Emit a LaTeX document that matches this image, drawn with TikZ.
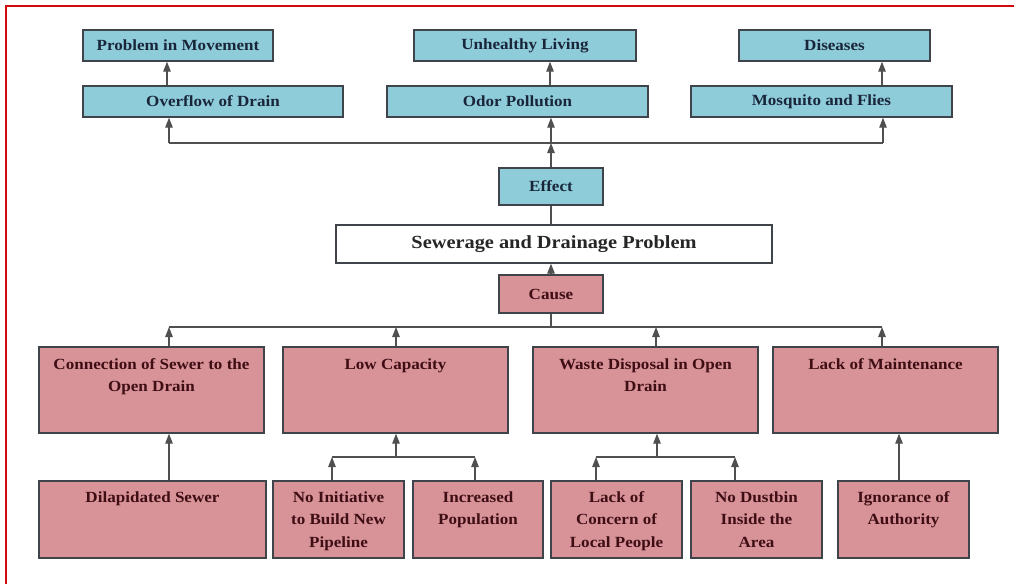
\documentclass[tikz,border=0pt]{standalone}
\usepackage{fontspec}
\usetikzlibrary{arrows.meta}
\newfontfamily\tbf[FakeStretch=1.1]{Liberation Serif}
\definecolor{blueF}{RGB}{143,204,218}
\definecolor{redF}{RGB}{216,147,152}
\definecolor{bord}{RGB}{62,68,74}
\definecolor{lnC}{RGB}{80,80,80}
\definecolor{txtB}{RGB}{25,38,58}
\definecolor{txtR}{RGB}{62,14,20}
\definecolor{frameR}{RGB}{210,10,10}
\tikzset{
  box/.style={draw=bord, line width=1.4pt, inner sep=0pt, anchor=center},
  bbox/.style={box, fill=blueF, text=txtB, font=\tbf\bfseries\fontsize{15.5}{22.5}\selectfont},
  rbox/.style={box, fill=redF},
  wbox/.style={box, fill=white, text=black!85, font=\tbf\bfseries\fontsize{18.5}{22}\selectfont},
  rtxt/.style={anchor=north, align=center, inner sep=0pt, text=txtR, font=\tbf\bfseries\fontsize{15.5}{22.5}\selectfont},
  ln/.style={draw=lnC, line width=1.2pt},
  arr/.style={ln, -{Triangle[length=10pt,width=7.5pt]}}
}
\begin{document}
\begin{tikzpicture}[x=1pt,y=-1pt]
\useasboundingbox (0,0) rectangle (1014,584);
\fill[white] (0,0) rectangle (1014,584);
\draw[frameR, line width=2pt] (1014,6) -- (6,6) -- (6,584);

% effect row nodes
\node[bbox, minimum width=190, minimum height=31] (pm) at (178,45.5) {Problem in Movement};
\node[bbox, minimum width=222, minimum height=31] (ul) at (525,45.5) {Unhealthy Living};
\node[bbox, minimum width=191, minimum height=31] (di) at (834.5,45.5) {Diseases};
\node[bbox, minimum width=260, minimum height=31] (ov) at (213,101.5) {Overflow of Drain};
\node[bbox, minimum width=261, minimum height=31] (op) at (517.5,101.5) {Odor Pollution};
\node[bbox, minimum width=261, minimum height=31] (mf) at (821.5,101.5) {Mosquito and Flies};

\node[bbox, minimum width=104, minimum height=37] (ef) at (551,186.5) {Effect};
\node[wbox, minimum width=436, minimum height=38] (sw) at (554,244) {Sewerage and Drainage Problem};
\node[rbox, minimum width=104, minimum height=38, text=txtR, font=\tbf\bfseries\fontsize{15.5}{22.5}\selectfont] (ca) at (551,294) {Cause};

% cause row 2
\node[rbox, minimum width=225, minimum height=86] (c1) at (151.5,390) {};
\node[rbox, minimum width=225, minimum height=86] (c2) at (395.5,390) {};
\node[rbox, minimum width=225, minimum height=86] (c3) at (645.5,390) {};
\node[rbox, minimum width=225, minimum height=86] (c4) at (885.5,390) {};
\node[rtxt] (c1t) at ([yshift=-12]c1.north) {Connection of Sewer to the\\Open Drain};
\node[rtxt] (c2t) at ([yshift=-12]c2.north) {Low Capacity};
\node[rtxt] (c3t) at ([yshift=-12]c3.north) {Waste Disposal in Open\\Drain};
\node[rtxt] (c4t) at ([yshift=-12]c4.north) {Lack of Maintenance};

% cause row 3
\node[rbox, minimum width=227, minimum height=77] (d1) at (152.5,519.5) {};
\node[rbox, minimum width=131, minimum height=77] (d2) at (338.5,519.5) {};
\node[rbox, minimum width=130, minimum height=77] (d3) at (478,519.5) {};
\node[rbox, minimum width=131, minimum height=77] (d4) at (616.5,519.5) {};
\node[rbox, minimum width=131, minimum height=77] (d5) at (756.5,519.5) {};
\node[rbox, minimum width=131, minimum height=77] (d6) at (903.5,519.5) {};
\node[rtxt] (d1t) at ([yshift=-11]d1.north) {Dilapidated Sewer};
\node[rtxt] (d2t) at ([yshift=-11]d2.north) {No Initiative\\to Build New\\Pipeline};
\node[rtxt] (d3t) at ([yshift=-11]d3.north) {Increased\\Population};
\node[rtxt] (d4t) at ([yshift=-11]d4.north) {Lack of\\Concern of\\Local People};
\node[rtxt] (d5t) at ([yshift=-11]d5.north) {No Dustbin\\Inside the\\Area};
\node[rtxt] (d6t) at ([yshift=-11]d6.north) {Ignorance of\\Authority};

% effect connectors
\coordinate (eL) at (169,143);
\coordinate (eJ) at (551,143);
\coordinate (eR) at (883,143);
\draw[ln] (eL) -- (eR);
\draw[arr] (ef.north) -- (eJ);
\draw[arr] (eL) -- (eL |- ov.south);
\draw[arr] (eJ) -- (eJ |- op.south);
\draw[arr] (eR) -- (eR |- mf.south);
\draw[arr] (167,0 |- ov.north) -- (167,0 |- pm.south);
\draw[arr] (550,0 |- op.north) -- (550,0 |- ul.south);
\draw[arr] (882,0 |- mf.north) -- (882,0 |- di.south);
\draw[ln] (ef.south) -- (ef.south |- sw.north);
\draw[arr] (ca.north) -- (ca.north |- sw.south);

% cause connectors
\coordinate (cL) at (169,327);
\coordinate (cJ) at (551,327);
\coordinate (cR) at (882,327);
\draw[ln] (cL) -- (cR);
\draw[ln] (ca.south) -- (cJ);
\draw[arr] (cL |- c1.north) -- (cL);
\draw[arr] (396,0 |- c2.north) -- (396,327);
\draw[arr] (656,0 |- c3.north) -- (656,327);
\draw[arr] (cR |- c4.north) -- (cR);

\draw[arr] (169,0 |- d1.north) -- (169,0 |- c1.south);
\coordinate (lJ) at (396,457);
\draw[arr] (lJ) -- (lJ |- c2.south);
\draw[ln] (332,457) -- (475,457);
\draw[arr] (332,0 |- d2.north) -- (332,457);
\draw[arr] (475,0 |- d3.north) -- (475,457);
\coordinate (wJ) at (657,457);
\draw[arr] (wJ) -- (wJ |- c3.south);
\draw[ln] (596,457) -- (735,457);
\draw[arr] (596,0 |- d4.north) -- (596,457);
\draw[arr] (735,0 |- d5.north) -- (735,457);
\draw[arr] (899,0 |- d6.north) -- (899,0 |- c4.south);
\end{tikzpicture}
\end{document}
